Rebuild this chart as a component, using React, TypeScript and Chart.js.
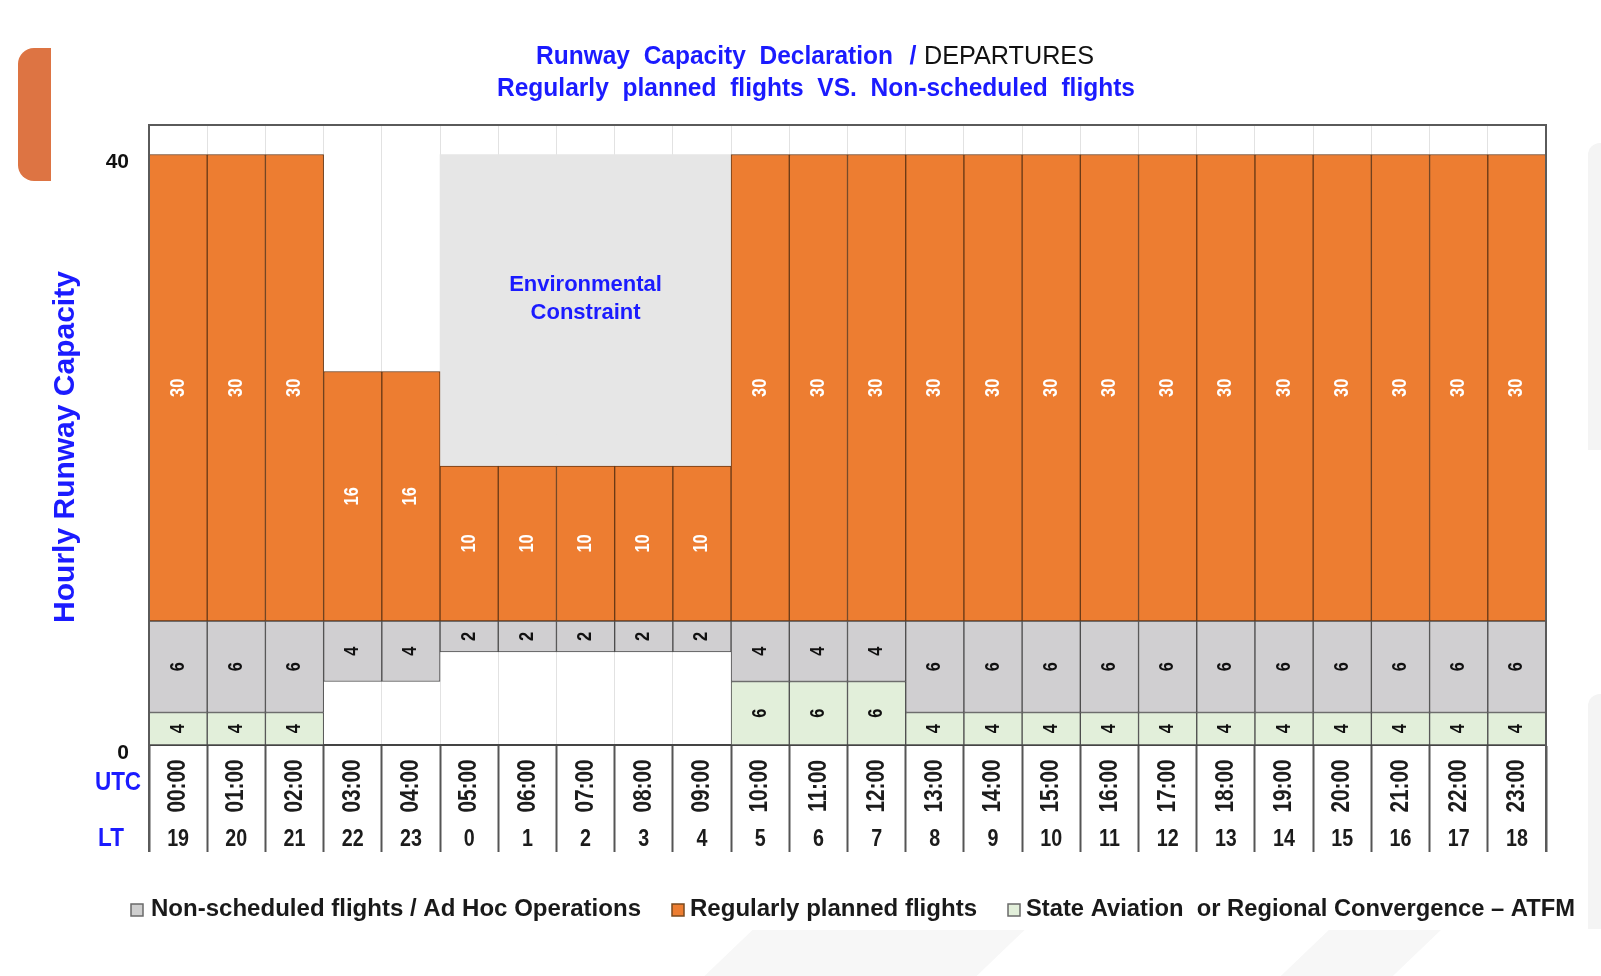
import React, { useEffect, useRef } from 'react';
import { Chart, registerables } from 'chart.js';

Chart.register(...registerables);

// ---------- data ----------
const utcLabels = [
  '00:00', '01:00', '02:00', '03:00', '04:00', '05:00', '06:00', '07:00', '08:00', '09:00', '10:00', '11:00',
  '12:00', '13:00', '14:00', '15:00', '16:00', '17:00', '18:00', '19:00', '20:00', '21:00', '22:00', '23:00',
];
const ltLabels = [
  '19', '20', '21', '22', '23', '0', '1', '2', '3', '4', '5', '6',
  '7', '8', '9', '10', '11', '12', '13', '14', '15', '16', '17', '18',
];

// drawn segment heights (axis units)
const stateAviationHeights = [2.2, 2.2, 2.2, 0, 0, 0, 0, 0, 0, 0, 4.3, 4.3, 4.3, 2.2, 2.2, 2.2, 2.2, 2.2, 2.2, 2.2, 2.2, 2.2, 2.2, 2.2];
const unusedHeights = [0, 0, 0, 4.3, 4.3, 6.3, 6.3, 6.3, 6.3, 6.3, 0, 0, 0, 0, 0, 0, 0, 0, 0, 0, 0, 0, 0, 0];
const nonScheduledHeights = [6.2, 6.2, 6.2, 4.1, 4.1, 2.1, 2.1, 2.1, 2.1, 2.1, 4.1, 4.1, 4.1, 6.2, 6.2, 6.2, 6.2, 6.2, 6.2, 6.2, 6.2, 6.2, 6.2, 6.2];
const regularHeights = [31.6, 31.6, 31.6, 16.9, 16.9, 10.5, 10.5, 10.5, 10.5, 10.5, 31.6, 31.6, 31.6, 31.6, 31.6, 31.6, 31.6, 31.6, 31.6, 31.6, 31.6, 31.6, 31.6, 31.6];
const environmentalHeights = [0, 0, 0, 0, 0, 21.1, 21.1, 21.1, 21.1, 21.1, 0, 0, 0, 0, 0, 0, 0, 0, 0, 0, 0, 0, 0, 0];

// values written on the segments
const stateAviationLabels = ['4', '4', '4', '', '', '', '', '', '', '', '6', '6', '6', '4', '4', '4', '4', '4', '4', '4', '4', '4', '4', '4'];
const nonScheduledLabels = ['6', '6', '6', '4', '4', '2', '2', '2', '2', '2', '4', '4', '4', '6', '6', '6', '6', '6', '6', '6', '6', '6', '6', '6'];
const regularLabels = ['30', '30', '30', '16', '16', '10', '10', '10', '10', '10', '30', '30', '30', '30', '30', '30', '30', '30', '30', '30', '30', '30', '30', '30'];

const yTickValues = [0, 40];

const BLUE = '#1b1bff';
const FONT = '"Liberation Sans", Arial, sans-serif';

type TxtOpts = { font: string; color: string; sx?: number; rot?: number; align?: CanvasTextAlign };

function drawText(ctx: CanvasRenderingContext2D, text: string, x: number, y: number, o: TxtOpts) {
  ctx.save();
  ctx.translate(x, y);
  if (o.rot) ctx.rotate(o.rot);
  ctx.scale(o.sx ?? 1, 1);
  ctx.font = o.font;
  ctx.fillStyle = o.color;
  ctx.textAlign = o.align ?? 'center';
  ctx.textBaseline = 'middle';
  ctx.fillText(text, 0, 0);
  ctx.restore();
}

function drawFit(ctx: CanvasRenderingContext2D, text: string, left: number, width: number, y: number, font: string, color: string) {
  ctx.save();
  ctx.font = font;
  const w = ctx.measureText(text).width;
  ctx.restore();
  drawText(ctx, text, left, y, { font, color, sx: width / w, align: 'left' });
}

const labelSets: Record<number, { labels: string[]; color: string }> = {
  0: { labels: stateAviationLabels, color: '#111' },
  2: { labels: nonScheduledLabels, color: '#111' },
  3: { labels: regularLabels, color: '#ffffff' },
};

const decorPlugin = {
  id: 'decor',
  afterDatasetsDraw(chart: any) {
    const ctx: CanvasRenderingContext2D = chart.ctx;
    Object.keys(labelSets).forEach((k) => {
      const idx = Number(k);
      const set = labelSets[idx];
      const meta = chart.getDatasetMeta(idx);
      meta.data.forEach((el: any, i: number) => {
        const t = set.labels[i];
        if (!t) return;
        const cy = (el.y + el.base) / 2;
        drawText(ctx, t, el.x, cy, { font: `bold 20px ${FONT}`, color: set.color, sx: 0.82, rot: -Math.PI / 2 });
      });
    });
    // environmental constraint text
    const envMeta = chart.getDatasetMeta(4);
    const yS = chart.scales.y;
    const cx = (envMeta.data[5].x + envMeta.data[9].x) / 2;
    drawText(ctx, 'Environmental', cx, yS.getPixelForValue(31.15), { font: `bold 22px ${FONT}`, color: BLUE });
    drawText(ctx, 'Constraint', cx, yS.getPixelForValue(29.25), { font: `bold 22px ${FONT}`, color: BLUE });
  },
  afterDraw(chart: any) {
    const ctx: CanvasRenderingContext2D = chart.ctx;
    const ca = chart.chartArea;
    const xS = chart.scales.x;
    // frame
    ctx.save();
    ctx.strokeStyle = '#5a5a5a';
    ctx.lineWidth = 2;
    ctx.beginPath();
    ctx.moveTo(ca.left, xS.bottom);
    ctx.lineTo(ca.left, ca.top);
    ctx.lineTo(ca.right, ca.top);
    ctx.lineTo(ca.right, xS.bottom);
    ctx.stroke();
    ctx.restore();
    // table labels
    utcLabels.forEach((lab, i) => {
      const px = xS.getPixelForValue(i);
      drawText(ctx, lab, px, xS.top + 41, { font: `bold 26px ${FONT}`, color: '#1c1c1c', sx: 0.8, rot: -Math.PI / 2 });
      drawText(ctx, ltLabels[i], px, xS.top + 94, { font: `bold 24px ${FONT}`, color: '#1c1c1c', sx: 0.82 });
    });
    drawText(ctx, 'UTC', 118, xS.top + 38, { font: `bold 25px ${FONT}`, color: BLUE, sx: 0.9 });
    drawText(ctx, 'LT', 111, xS.top + 94, { font: `bold 25px ${FONT}`, color: BLUE, sx: 0.9 });
    // y axis title
    drawText(ctx, 'Hourly Runway Capacity', 66, 447, { font: `bold 30px ${FONT}`, color: BLUE, rot: -Math.PI / 2 });
    // title
    drawFit(ctx, 'Runway  Capacity  Declaration', 536, 357, 57, `bold 25px ${FONT}`, BLUE);
    drawText(ctx, '/', 913, 57, { font: `bold 25px ${FONT}`, color: BLUE });
    drawFit(ctx, 'DEPARTURES', 924, 170, 57, `25px ${FONT}`, '#111');
    drawFit(ctx, 'Regularly  planned  flights  VS.  Non-scheduled  flights', 497, 638, 89, `bold 25px ${FONT}`, BLUE);
    // legend
    const items = [
      { ds: 2, box: 131, tx: 151, tw: 490, fill: '#cfcfcf', stroke: '#6a6a6a' },
      { ds: 3, box: 672, tx: 690, tw: 287, fill: '#ED7D31', stroke: '#7a4a1e' },
      { ds: 0, box: 1008, tx: 1026, tw: 549, fill: '#E2EFDA', stroke: '#6a6a6a' },
    ];
    items.forEach((it) => {
      ctx.save();
      ctx.fillStyle = it.fill;
      ctx.strokeStyle = it.stroke;
      ctx.lineWidth = 1.5;
      ctx.fillRect(it.box, 904, 12, 12);
      ctx.strokeRect(it.box, 904, 12, 12);
      ctx.restore();
      drawFit(ctx, chart.data.datasets[it.ds].label, it.tx, it.tw, 910, `bold 23px ${FONT}`, '#1a1a1a');
    });
  },
};

export default function App() {
  const ref = useRef<HTMLCanvasElement>(null);
  useEffect(() => {
    document.body.style.margin = '0';
    document.body.style.overflow = 'hidden';
    const barCommon = { barPercentage: 1, categoryPercentage: 1, borderSkipped: false as const, stack: 's' };
    const chart = new Chart(ref.current as HTMLCanvasElement, {
      type: 'bar',
      data: {
        labels: utcLabels,
        datasets: [
          { ...barCommon, label: 'State Aviation  or Regional Convergence – ATFM', data: stateAviationHeights, backgroundColor: '#E2EFDA', borderColor: '#4d4d4d', borderWidth: 1 },
          { ...barCommon, label: 'unused', data: unusedHeights, backgroundColor: 'rgba(0,0,0,0)', borderWidth: 0 },
          { ...barCommon, label: 'Non-scheduled flights / Ad Hoc Operations', data: nonScheduledHeights, backgroundColor: '#D0CFD1', borderColor: '#4d4d4d', borderWidth: 1 },
          { ...barCommon, label: 'Regularly planned flights', data: regularHeights, backgroundColor: '#ED7D31', borderColor: '#6b3a16', borderWidth: 1 },
          { ...barCommon, label: 'Environmental Constraint', data: environmentalHeights, backgroundColor: '#E6E6E6', borderWidth: 0 },
        ],
      },
      options: {
        responsive: false,
        animation: false,
        devicePixelRatio: 1,
        layout: { padding: { left: 49, right: 55, top: 125, bottom: 124 } },
        plugins: { legend: { display: false }, title: { display: false }, tooltip: { enabled: false } },
        scales: {
          x: {
            type: 'category',
            stacked: true,
            offset: true,
            grid: { offset: true, color: '#e2e2e2', lineWidth: 1, drawTicks: true, tickLength: 107, tickColor: '#555', tickWidth: 2 },
            border: { display: true, color: '#444', width: 2 },
            ticks: { display: false },
            afterFit: (s: any) => { s.height = 107; },
          },
          y: {
            stacked: true,
            min: 0,
            max: 42,
            grid: { display: false, drawTicks: false },
            border: { display: true, color: '#5a5a5a', width: 2 },
            afterBuildTicks: (s: any) => { s.ticks = yTickValues.map((v) => ({ value: v })); },
            afterFit: (s: any) => { s.width = 100; },
            ticks: { padding: 20, labelOffset: 8, color: '#111', font: { family: FONT, size: 21, weight: 'bold' } },
          },
        },
      },
      plugins: [decorPlugin],
    } as any);
    return () => chart.destroy();
  }, []);

  return (
    <div style={{ position: 'absolute', left: 0, top: 0, width: 1601, height: 976, background: '#fff', overflow: 'hidden' }}>
      <div style={{ position: 'absolute', left: 18, top: 48, width: 33, height: 133, background: '#DD7443', borderRadius: '16px 0 0 16px' }} />
      <div style={{ position: 'absolute', left: 1588, top: 143, width: 20, height: 307, background: '#f4f4f4', borderRadius: '12px 0 0 0' }} />
      <div style={{ position: 'absolute', left: 1588, top: 694, width: 20, height: 235, background: '#f4f4f4', borderRadius: '12px 0 0 0' }} />
      <div style={{ position: 'absolute', left: 0, top: 930, width: 1601, height: 46, background: '#f7f7f7', clipPath: 'polygon(44% 100%, 47% 0%, 64% 0%, 61% 100%, 80% 100%, 83% 0%, 90% 0%, 87% 100%)' }} />
      <canvas ref={ref} width={1601} height={976} style={{ position: 'absolute', left: 0, top: 0, width: 1601, height: 976 }} />
    </div>
  );
}
